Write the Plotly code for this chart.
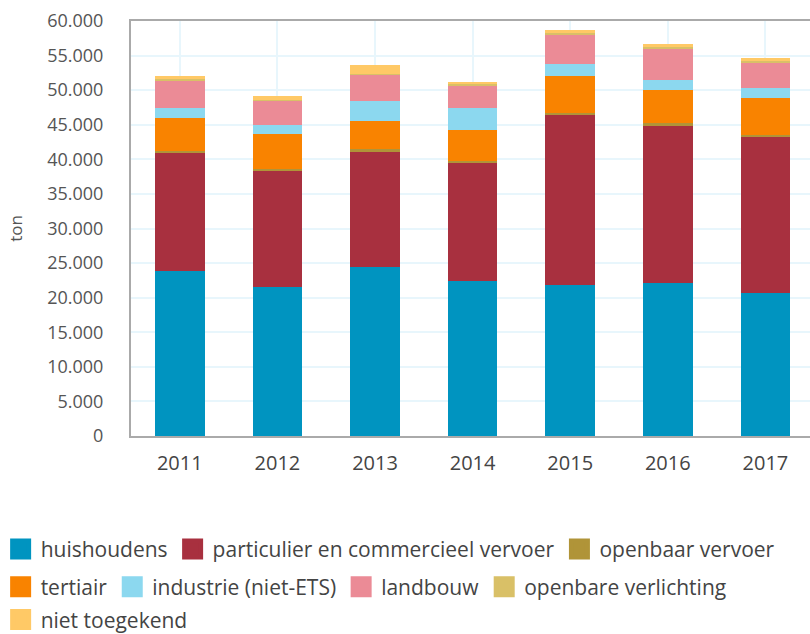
import plotly.graph_objects as go

years = ["2011", "2012", "2013", "2014", "2015", "2016", "2017"]

huishoudens = [23900, 21550, 24450, 22400, 21900, 22100, 20700]
particulier = [17100, 16850, 16600, 17170, 24550, 22850, 22600]
openbaar_vervoer = [250, 250, 500, 230, 300, 250, 200]
tertiair = [4700, 4950, 4050, 4400, 5250, 4800, 5350]
industrie = [1450, 1400, 2900, 3200, 1800, 1450, 1450]
landbouw = [4060, 3550, 3750, 3200, 4300, 4600, 3700]
openbare_verlichting = [100, 100, 150, 300, 200, 150, 150]
niet_toegekend = [500, 480, 1300, 300, 450, 450, 500]

series = [
    ("huishoudens", huishoudens, "#0094c0", "legend"),
    ("particulier en commercieel vervoer", particulier, "#a8303f", "legend"),
    ("openbaar vervoer", openbaar_vervoer, "#b09438", "legend"),
    ("tertiair", tertiair, "#f98300", "legend2"),
    ("industrie (niet-ETS)", industrie, "#8cd8ef", "legend2"),
    ("landbouw", landbouw, "#eb8b96", "legend2"),
    ("openbare verlichting", openbare_verlichting, "#d9c067", "legend2"),
    ("niet toegekend", niet_toegekend, "#ffc966", "legend3"),
]

fig = go.Figure()
for name, vals, col, lg in series:
    fig.add_trace(go.Bar(x=years, y=vals, name=name, legendgroup=name, showlegend=False,
                         marker=dict(color=col, line=dict(width=0))))
# legend entries (larger square swatches), linked to the bars through legendgroup
for name, vals, col, lg in series:
    fig.add_trace(go.Scatter(x=[None], y=[None], mode="markers", name=name, legendgroup=name,
                             legend=lg, showlegend=True, hoverinfo="skip",
                             marker=dict(symbol="square", size=16, color=col,
                                         line=dict(color=col, width=6))))

font_family = "Open Sans"
legend_common = dict(orientation="h", xanchor="left", yanchor="middle",
                     font=dict(size=21, color="#444444"), traceorder="normal",
                     bgcolor="rgba(0,0,0,0)", entrywidth=0)
fig.update_layout(
    barmode="stack",
    bargap=0.49,
    width=810, height=634,
    margin=dict(l=131, r=0, t=21, b=198, autoexpand=False),
    plot_bgcolor="white", paper_bgcolor="white",
    separators=",.",
    font=dict(family=font_family, size=16, color="#555555"),
    legend=dict(legend_common, x=-0.192, y=-0.273),
    legend2=dict(legend_common, x=-0.192, y=-0.364),
    legend3=dict(legend_common, x=-0.192, y=-0.443),
    xaxis=dict(type="category", range=[-0.5, 6.457], showgrid=True, gridcolor="#e8f6fc", gridwidth=2,
               showline=True, linecolor="#aaaaaa", linewidth=2, mirror=True, automargin=False,
               ticks="", tickfont=dict(size=20, color="#444444"), ticklabelstandoff=8),
    yaxis=dict(range=[0, 60000], dtick=5000, tickformat=",d", showgrid=True, gridcolor="#e8f6fc",
               gridwidth=2, showline=True, linecolor="#aaaaaa", linewidth=2, zeroline=False,
               automargin=False,
               ticks="", tickfont=dict(size=18, color="#555555"), ticklabelstandoff=22,
               title=dict(text="ton", font=dict(size=17, color="#555555"), standoff=20)),
)

fig.write_html("out.html", config={"displayModeBar": False},
               post_script="document.body.style.margin='0';document.body.style.overflow='hidden';")
